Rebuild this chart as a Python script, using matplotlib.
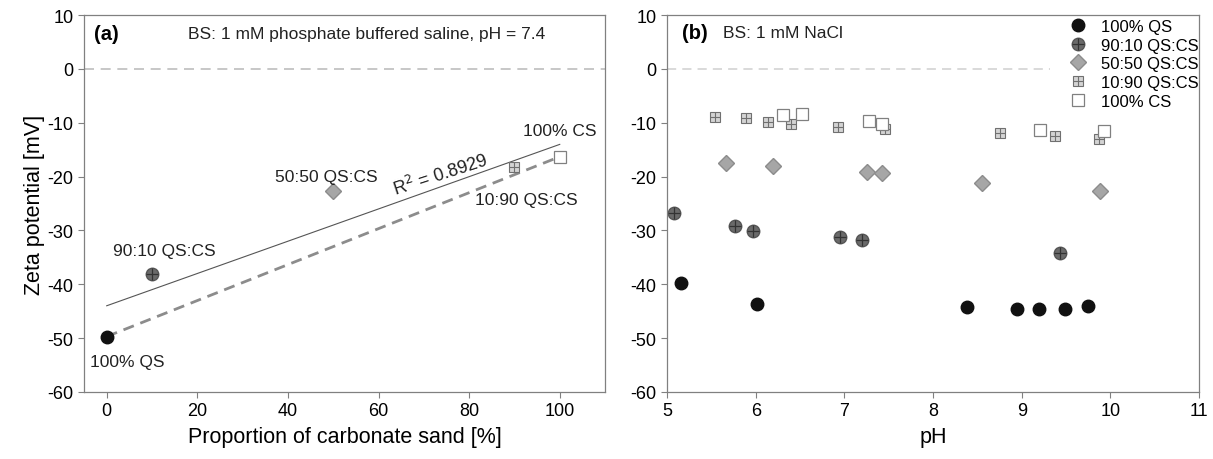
import numpy as np
import matplotlib
matplotlib.use("Agg")
import matplotlib.pyplot as plt
from matplotlib.legend_handler import HandlerTuple

plt.rcParams['font.family'] = ['Liberation Sans', 'DejaVu Sans']
plt.rcParams['axes.unicode_minus'] = False

# panel (a) data
prop_cs = [0, 10, 50, 90, 100]
zeta_pbs = [-49.7, -38.0, -22.7, -18.3, -16.3]
mix_names = ["100% QS", "90:10 QS:CS", "50:50 QS:CS", "10:90 QS:CS", "100% CS"]

# panel (b) data
ph_qs = [5.16, 6.02, 8.38, 8.95, 9.20, 9.49, 9.75]
z_qs = [-39.8, -43.7, -44.3, -44.6, -44.5, -44.5, -44.0]
ph_9010 = [5.08, 5.77, 5.97, 6.95, 7.20, 9.43]
z_9010 = [-26.8, -29.1, -30.1, -31.2, -31.8, -34.2]
ph_5050 = [5.67, 6.19, 7.25, 7.43, 8.55, 9.88]
z_5050 = [-17.4, -18.1, -19.2, -19.3, -21.2, -22.7]
ph_1090 = [5.54, 5.89, 6.14, 6.40, 6.93, 7.46, 8.76, 9.37, 9.87]
z_1090 = [-8.9, -9.2, -9.8, -10.2, -10.7, -11.2, -11.9, -12.4, -13.1]
ph_cs = [6.31, 6.52, 7.28, 7.43, 9.21, 9.93]
z_cs = [-8.6, -8.4, -9.6, -10.3, -11.3, -11.6]

spine_c = '#808080'
txt_c = '#222222'
ms = 9


def style_ax(ax):
    for s in ax.spines.values():
        s.set_color(spine_c)
        s.set_linewidth(0.9)
    ax.tick_params(direction='out', color=spine_c, labelsize=13, length=4)
    ax.set_ylim(-60, 10)
    ax.set_yticks(range(-60, 11, 10))


def draw_marker(ax, x, y, kind):
    # returns handle(s) for the legend
    if kind == 0:
        return ax.plot(x, y, 'o', ms=ms, mfc='#111111', mec='#111111', ls='none')[0]
    if kind == 1:
        h1 = ax.plot(x, y, 'o', ms=ms, mfc='#6a6a6a', mec='#555555', ls='none')[0]
        h2 = ax.plot(x, y, '+', ms=ms, mec='#333333', mew=0.9, ls='none')[0]
        return (h1, h2)
    if kind == 2:
        return ax.plot(x, y, 'D', ms=ms * 0.85, mfc='#a6a6a6', mec='#8c8c8c', ls='none')[0]
    if kind == 3:
        h1 = ax.plot(x, y, 's', ms=ms * 0.85, mfc='#d4d4d4', mec='#707070', mew=0.8, ls='none')[0]
        h2 = ax.plot(x, y, '+', ms=ms * 0.85, mec='#707070', mew=0.8, ls='none')[0]
        return (h1, h2)
    return ax.plot(x, y, 's', ms=ms * 0.95, mfc='white', mec='#808080', mew=0.9, ls='none')[0]


fig = plt.figure(figsize=(12.13, 4.6), dpi=100)
ax1 = fig.add_axes([0.0693, 0.1457, 0.4295, 0.8193])
ax2 = fig.add_axes([0.5499, 0.1457, 0.4386, 0.8193])

# ---- panel (a)
style_ax(ax1)
ax1.set_xlim(-5, 110)
ax1.set_xticks(range(0, 101, 20))
ax1.axhline(0, color='#bdbdbd', ls=(0, (6, 4)), lw=1.2, zorder=1)

slope, icpt = np.polyfit(prop_cs, zeta_pbs, 1)
xf = np.array([prop_cs[0], prop_cs[-1]])
ax1.plot(xf, slope * xf + icpt, color='#555555', lw=0.8, zorder=2)
ax1.plot([prop_cs[0], prop_cs[-1]], [zeta_pbs[0], zeta_pbs[-1]], color='#8c8c8c',
         lw=2, ls=(0, (4, 2.5)), zorder=2)

for i in range(5):
    draw_marker(ax1, [prop_cs[i]], [zeta_pbs[i]], i)

lab_pos = [(4.6, -54.4), (12.8, -33.8), (48.5, -19.9), (92.7, -24.3), (99.9, -11.5)]
for name, (lx, ly) in zip(mix_names, lab_pos):
    ax1.text(lx, ly, name, fontsize=12.5, ha='center', va='center', color=txt_c)
ax1.text(73.7, -19.6, r'R$^2$ = 0.8929', fontsize=13, rotation=18, ha='center',
         va='center', color=txt_c)
ax1.text(-2.9, 6.5, '(a)', fontsize=14.5, fontweight='bold', ha='left', va='center')
ax1.text(57.4, 6.5, 'BS: 1 mM phosphate buffered saline, pH = 7.4', fontsize=12.5,
         ha='center', va='center', color=txt_c)
ax1.set_xlabel('Proportion of carbonate sand [%]', fontsize=15.5, labelpad=5)
ax1.set_ylabel('Zeta potential [mV]', fontsize=15.5, labelpad=2)

# ---- panel (b)
style_ax(ax2)
ax2.set_xlim(5, 11)
ax2.set_xticks(range(5, 12))
ax2.plot([5, 9.32], [0, 0], color='#cfcfcf', ls=(0, (6, 4)), lw=1.1, zorder=1)

series = [(ph_qs, z_qs), (ph_9010, z_9010), (ph_5050, z_5050), (ph_1090, z_1090), (ph_cs, z_cs)]
handles = []
for k, (px, pz) in enumerate(series):
    handles.append(draw_marker(ax2, px, pz, k))

ax2.legend(handles, mix_names, loc='upper left', frameon=False, fontsize=12,
           handler_map={tuple: HandlerTuple(ndivide=1, pad=0)},
           handlelength=1.0, handletextpad=0.9, labelspacing=0.22,
           borderaxespad=0.0, borderpad=0.0, bbox_to_anchor=(0.757, 0.99))
ax2.text(5.17, 6.8, '(b)', fontsize=14.5, fontweight='bold', ha='left', va='center')
ax2.text(6.31, 6.8, 'BS: 1 mM NaCl', fontsize=12.5, ha='center', va='center', color=txt_c)
ax2.set_xlabel('pH', fontsize=15.5, labelpad=5)

fig.savefig('out.png', dpi=100)
